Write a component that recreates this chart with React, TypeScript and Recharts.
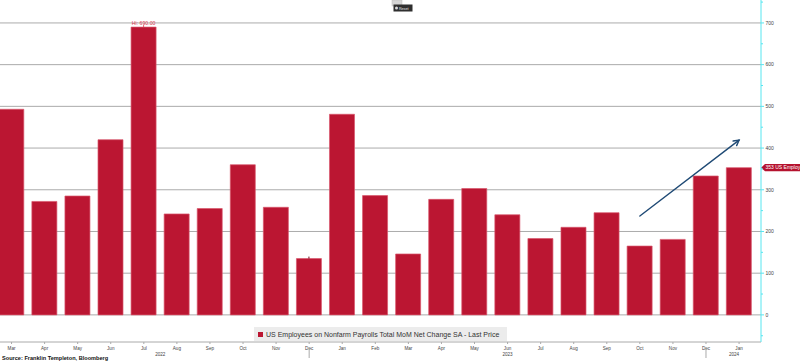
import React from "react";
import {
  BarChart,
  Bar,
  XAxis,
  YAxis,
  CartesianGrid,
  ReferenceLine,
  LabelList,
  Legend,
} from "recharts";

// monthly change in nonfarm payrolls, thousands
const periods = [
  "Mar 2022", "Apr 2022", "May 2022", "Jun 2022", "Jul 2022", "Aug 2022",
  "Sep 2022", "Oct 2022", "Nov 2022", "Dec 2022", "Jan 2023", "Feb 2023",
  "Mar 2023", "Apr 2023", "May 2023", "Jun 2023", "Jul 2023", "Aug 2023",
  "Sep 2023", "Oct 2023", "Nov 2023", "Dec 2023", "Jan 2024",
];
const payrolls = [
  493, 272, 285, 420, 690, 242, 255, 360, 258, 135, 481, 286,
  146, 277, 303, 240, 183, 210, 245, 165, 181, 333, 353,
];
const yTicks = [-50, 0, 50, 100, 150, 200, 250, 300, 350, 400, 450, 500, 550, 600, 650, 700, 750];
const yLabels = [0, 100, 200, 300, 400, 500, 600, 700];
const yearLabels: Record<string, string> = { "Jul 2022": "2022", "Jun 2023": "2023", "Jan 2024": "2024" };
const trendLine = [
  { x: "Oct 2023", y: 237 },
  { x: "Jan 2024", y: 419 },
];
const seriesName = "US Employees on Nonfarm Payrolls Total MoM Net Change SA - Last Price";
const tagText = "353 US Employ";
const sourceText = "Source: Franklin Templeton, Bloomberg";

const data = periods.map((p, i) => ({ period: p, value: payrolls[i] }));
const hiIdx = payrolls.indexOf(Math.max(...payrolls));
const loIdx = payrolls.indexOf(Math.min(...payrolls));
const lastValue = payrolls[payrolls.length - 1];

const RED = "#bb1632";
const CYAN = "#57e6f0";
const FONT = "'Liberation Sans', Arial, sans-serif";

const MonthTick = (props: any) => {
  const { x, y, payload } = props;
  const v: string = payload.value;
  const month = v.split(" ")[0];
  const year = yearLabels[v];
  let yx = x;
  if (v === "Jul 2022") yx = x + 16.5;
  if (v === "Jan 2024") yx = x - 5;
  return (
    <g>
      <text x={x} y={y + 3.5} textAnchor="middle" fontSize={4.6} fill="#444" fontFamily={FONT}>
        {month}
      </text>
      {year && (
        <text x={yx} y={y + 10} textAnchor="middle" fontSize={4.6} fill="#444" fontFamily={FONT}>
          {year}
        </text>
      )}
      {month === "Dec" && <line x1={x} x2={x} y1={y + 1} y2={y + 12} stroke="#aaa" strokeWidth={1} />}
    </g>
  );
};

const ValueTick = (props: any) => {
  const { x, y, payload } = props;
  const major = yLabels.includes(payload.value);
  return (
    <g>
      <line x1={x} x2={x + (major ? 3 : 2)} y1={y} y2={y} stroke={CYAN} strokeWidth={1} />
      {major && (
        <text x={x + 4.5} y={y + 1.8} fontSize={5} fill="#444" fontFamily={FONT}>
          {payload.value}
        </text>
      )}
    </g>
  );
};

const HiLoMark = (props: any) => {
  const { x, y, width, index, value } = props;
  const cx = x + width / 2;
  if (index === hiIdx) {
    return (
      <g>
        <line x1={cx} x2={cx} y1={y} y2={y - 2} stroke="#e05a6c" strokeWidth={1} />
        <text x={cx} y={y - 2.5} textAnchor="middle" fontSize={5.2} fill="#d8384f" fontFamily={FONT}>
          {"Hi: " + Number(value).toFixed(2)}
        </text>
      </g>
    );
  }
  if (index === loIdx) {
    return <line x1={cx} x2={cx} y1={y} y2={y - 2} stroke="#6a1020" strokeWidth={1} />;
  }
  return null;
};

const LastTag = (props: any) => {
  const { viewBox } = props;
  const x0 = viewBox.x + viewBox.width;
  const y0 = viewBox.y;
  return (
    <g>
      <path
        d={`M${x0},${y0} L${x0 + 4},${y0 - 3.6} L${x0 + 48},${y0 - 3.6} L${x0 + 48},${y0 + 3.6} L${x0 + 4},${y0 + 3.6} Z`}
        fill="#b5122e"
      />
      <text x={x0 + 4.5} y={y0 + 1.8} fontSize={5} fill="#fff" fontFamily={FONT}>
        {tagText}
      </text>
    </g>
  );
};

const Arrow = (props: any) => {
  const { x1, y1, x2, y2 } = props;
  const a = Math.atan2(y2 - y1, x2 - x1);
  const len = 6;
  const l1x = x2 - len * Math.cos(a - 0.5);
  const l1y = y2 - len * Math.sin(a - 0.5);
  const l2x = x2 - len * Math.cos(a + 0.5);
  const l2y = y2 - len * Math.sin(a + 0.5);
  return (
    <g stroke="#1f4a75" strokeWidth={1.4} fill="none" strokeLinecap="round">
      <line x1={x1} y1={y1} x2={x2} y2={y2} />
      <polyline points={`${l1x},${l1y} ${x2},${y2} ${l2x},${l2y}`} />
    </g>
  );
};

const LegendBox = () => (
  <div
    style={{
      background: "#ececec",
      height: 14,
      display: "flex",
      alignItems: "center",
      fontFamily: FONT,
      fontSize: 7,
      color: "#333",
      whiteSpace: "nowrap",
    }}
  >
    <span style={{ width: 5, height: 5, background: RED, margin: "0 3px 0 4px", display: "inline-block" }} />
    {seriesName}
  </div>
);

export default function App() {
  return (
    <div style={{ position: "absolute", left: 0, top: 0, width: 800, height: 362, overflow: "hidden", background: "#fff" }}>
      <div style={{ position: "absolute", left: -5, top: 0 }}>
        <BarChart
          width={805}
          height={362}
          data={data}
          margin={{ top: 0, right: 0, bottom: 0, left: 0 }}
          barCategoryGap="11.5%"
        >
          <CartesianGrid vertical={false} horizontalValues={yLabels} stroke="#ababab" strokeWidth={1} />
          <XAxis
            dataKey="period"
            interval={0}
            height={20}
            padding={{ left: 0, right: 5.4 }}
            tickSize={2}
            tickLine={{ stroke: "#aaa" }}
            axisLine={{ stroke: "#aaa" }}
            tick={<MonthTick />}
          />
          <YAxis
            orientation="right"
            width={39}
            domain={[-65, 755]}
            ticks={yTicks}
            interval={0}
            allowDataOverflow
            tickSize={0}
            tickMargin={0}
            tickLine={false}
            axisLine={{ stroke: CYAN }}
            tick={<ValueTick />}
          />
          <Legend
            layout="horizontal"
            verticalAlign="middle"
            align="center"
            wrapperStyle={{ left: 259, top: 327, width: 253, height: 14 }}
            content={() => <LegendBox />}
          />
          <Bar dataKey="value" fill={RED} stroke="#d9566b" strokeWidth={0.7} isAnimationActive={false}>
            <LabelList dataKey="value" content={<HiLoMark />} />
          </Bar>
          <ReferenceLine y={lastValue} stroke="none" ifOverflow="visible" label={<LastTag />} />
          <ReferenceLine segment={trendLine} ifOverflow="visible" shape={(p: any) => <Arrow {...p} />} />
        </BarChart>
      </div>
      <svg width={800} height={362} style={{ position: "absolute", left: 0, top: 0, pointerEvents: "none" }}>
        <rect x={392} y={0} width={10} height={6} fill="#d6d6d6" stroke="#bbb" strokeWidth={0.5} />
        <rect x={393.5} y={4.5} width={19} height={7} fill="#2f2f2f" />
        <circle cx={396.5} cy={8} r={1.5} fill="#ddd" />
        <text x={399} y={9.5} fontSize={3.6} fill="#eee" fontFamily={FONT}>
          Reset
        </text>
        <text x={2} y={360} fontSize={5.6} fontWeight="bold" fill="#111" fontFamily={FONT}>
          {sourceText}
        </text>
      </svg>
    </div>
  );
}
